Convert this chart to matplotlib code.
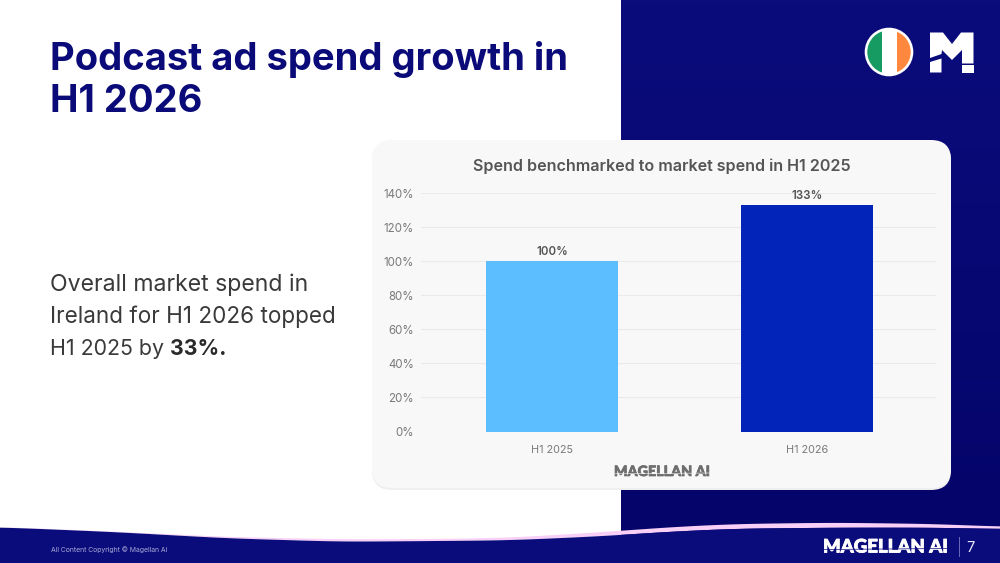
import numpy as np
import matplotlib
matplotlib.use("Agg")
import matplotlib.pyplot as plt
import matplotlib.patheffects as pe
from matplotlib.colors import LinearSegmentedColormap
from matplotlib.patches import FancyBboxPatch, Circle, Rectangle, Polygon

periods = ["H1 2025", "H1 2026"]
spend = [100, 133]
bar_colors = ["#5DBEFF", "#0324B8"]
y_ticks = [0, 20, 40, 60, 80, 100, 120, 140]

# footer wave in pixels
wave_x = [0, 113, 227, 340, 440, 510, 600, 670, 735, 835, 935, 1000]
wave_top = [527, 531.5, 537, 539.3, 539, 537.7, 532.3, 527.2, 524, 522.7, 524, 526.7]
wave_low = [527.3, 532, 538.3, 541.7, 541, 540.3, 536.3, 531.7, 528.7, 527.7, 527.7, 529]

NAVY = "#0B0C7C"
FONT = "Inter"

plt.rcParams["font.family"] = [FONT, "DejaVu Sans"]


def smooth(xs, ys, grid):
    # only for the decorative wave, so the polyline does not show kinks
    line = np.interp(grid, xs, ys)
    pad = 30
    padded = np.r_[np.full(pad, line[0]), line, np.full(pad, line[-1])]
    kernel = np.hanning(2 * pad + 1)
    return np.convolve(padded, kernel / kernel.sum(), mode="same")[pad:-pad]


fig = plt.figure(figsize=(10, 5.63), dpi=100)

# whole slide in pixel coordinates
bg = fig.add_axes([0, 0, 1, 1], zorder=0)
grad = np.linspace(0, 1, 100).reshape(-1, 1)
bg.imshow(grad, extent=[621, 1000, 535, 0], aspect="auto", zorder=1,
          cmap=LinearSegmentedColormap.from_list("panel", [NAVY, "#04046A"]))
bg.set_xlim(0, 1000)
bg.set_ylim(563, 0)
bg.axis("off")

# wave
grid = np.arange(0, 1001, 2.0)
top = smooth(wave_x, wave_top, grid)
low = smooth(wave_x, wave_low, grid)
bg.fill_between(grid, top, low, color="#F8CFF6", lw=0, zorder=2)
bg.fill_between(grid, low, 563, color=NAVY, lw=0, zorder=3)

# card
bg.add_patch(FancyBboxPatch((372 + 20, 141 + 20), 579 - 40, 349 - 40,
                            boxstyle="round,pad=20,rounding_size=20",
                            fc="#EFEFEF", ec="none", zorder=4))
bg.add_patch(FancyBboxPatch((372 + 20, 140 + 20), 579 - 40, 348 - 40,
                            boxstyle="round,pad=20,rounding_size=20",
                            fc="#F8F8F8", ec="none", zorder=5))

# headline and body text
bg.text(50, 60, "Podcast ad spend growth in", fontsize=27.5, fontweight="bold",
        color="#0A0A78", va="center", ha="left", zorder=6)
bg.text(50, 102, "H1 2026", fontsize=27.5, fontweight="bold",
        color="#0A0A78", va="center", ha="left", zorder=6)
bg.text(50, 285, "Overall market spend in", fontsize=16.6, color="#3A3A3A", va="center", zorder=6)
bg.text(50, 317, "Ireland for H1 2026 topped", fontsize=16.2, color="#3A3A3A", va="center", zorder=6)
t = bg.text(50, 349, "H1 2025 by ", fontsize=15.4, color="#3A3A3A", va="center", zorder=6)
fig.canvas.draw()
end = t.get_window_extent().transformed(bg.transData.inverted()).x1
bg.text(end, 349, "33%.", fontsize=15.4, fontweight="bold", color="#2A2A2A", va="center", zorder=6)

# flag
bg.add_patch(Circle((889, 52), 24.3, fc="white", ec="none", zorder=6))
clip = Circle((889, 52), 21.7, transform=bg.transData)
for x0, w, c in [(866, 16, "#169B62"), (882, 15, "#FFFFFF"), (897, 17, "#FF883E")]:
    r = Rectangle((x0, 28), w, 48, fc=c, ec="none", zorder=7)
    bg.add_patch(r)
    r.set_clip_path(clip)

# M logo
bg.add_patch(Polygon([(930, 32.5), (943, 32.5), (952, 44), (961, 32.5), (973.5, 32.5), (973.5, 63.5),
                      (962, 63.5), (962, 50), (952, 60), (942, 50), (941.5, 54), (930, 58)],
                     fc="white", ec="none", zorder=7))
bg.add_patch(Polygon([(930, 62), (941.5, 58.5), (941.5, 72.5), (930, 72.5)], fc="white", ec="none", zorder=7))
bg.add_patch(Rectangle((962, 65.3), 11.5, 7.2, fc="white", ec="none", zorder=7))

# footer
bg.text(51, 550, "All Content Copyright © Magellan AI", fontsize=4.9, color="#A9A9D6",
        va="center", zorder=6)
bg.text(823, 547, "MAGELLAN AI", fontsize=13.4, fontweight="black", color="white",
        va="center", zorder=6, family=["Lato", "DejaVu Sans"],
        path_effects=[pe.withStroke(linewidth=0.6, foreground="white")])
bg.plot([823, 948], [549.5, 548.5], color=NAVY, lw=0.5, zorder=7)
bg.plot([958.5, 958.5], [537, 556], color="#6A6AB8", lw=0.7, zorder=6)
bg.text(970.5, 547.5, "7", fontsize=10.5, color="#E6E6F6", ha="center", va="center", zorder=6)

# chart
w, h = 1000, 563
ax = fig.add_axes([421 / w, 1 - 431.5 / h, 515 / w, (431.5 - 193) / h], zorder=2)
ax.patch.set_alpha(0)
ax.bar(periods, spend, width=0.518, color=bar_colors, zorder=3)
ax.set_xlim(-0.514, 1.506)
ax.set_ylim(0, 140)
ax.set_yticks(y_ticks)
ax.set_yticklabels([f"{v}%" for v in y_ticks])
ax.grid(axis="y", color="#EAEAEA", lw=0.8, zorder=0)
ax.tick_params(axis="both", length=0, labelsize=8.3, labelcolor="#7A7A7A")
ax.tick_params(axis="x", pad=10, labelsize=7.8)
ax.tick_params(axis="y", pad=5)
for s in ax.spines.values():
    s.set_visible(False)
for i, v in enumerate(spend):
    ax.text(i, v + 1.6, f"{v}%", ha="center", va="bottom", fontsize=8.3,
            fontweight="semibold", color="#555555")

bg.text(661.5, 166, "Spend benchmarked to market spend in H1 2025", fontsize=11.6, fontweight="semibold",
        color="#555555", ha="center", va="center", zorder=6)
bg.text(662, 472, "MAGELLAN AI", fontsize=10.3, fontweight="black", color="#6E6E6E",
        ha="center", va="center", zorder=6, family=["Lato", "DejaVu Sans"],
        path_effects=[pe.withStroke(linewidth=0.5, foreground="#6E6E6E")])
bg.plot([615, 710], [473.8, 473], color="#F8F8F8", lw=0.4, zorder=7)

fig.savefig("out.png", dpi=100)
